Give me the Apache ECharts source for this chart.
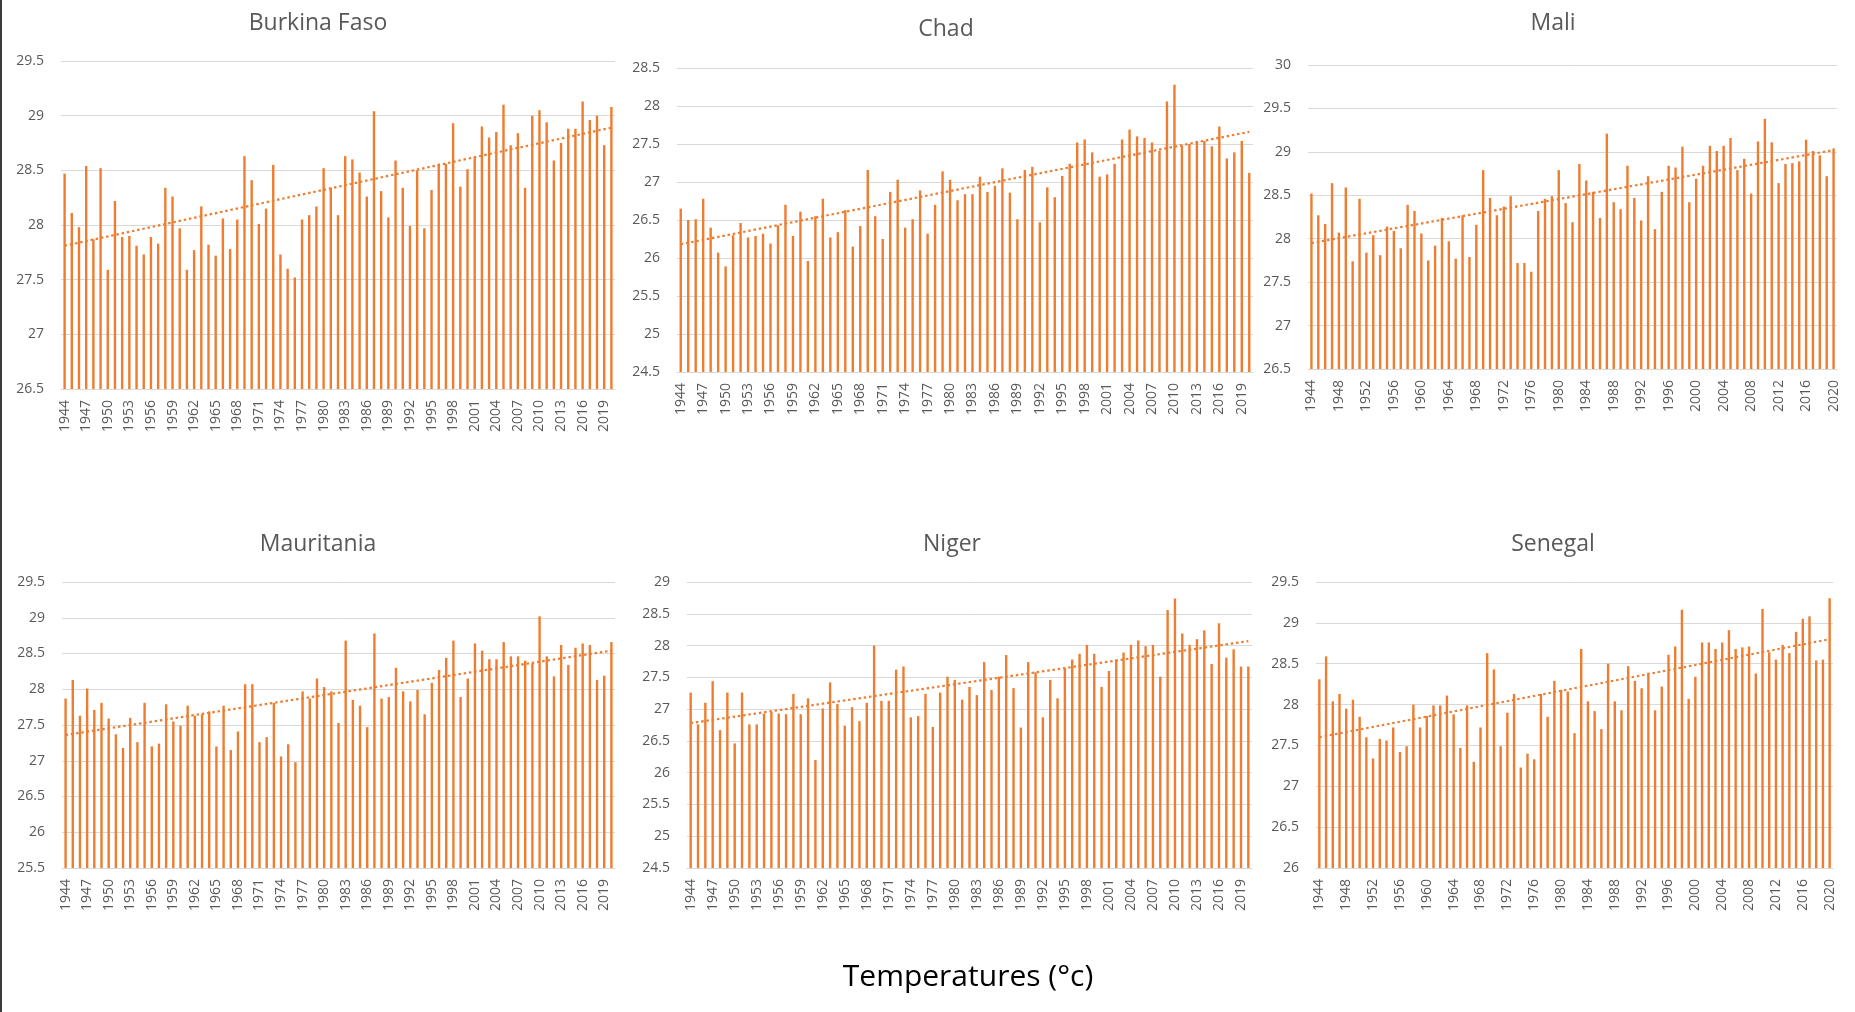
<!DOCTYPE html>
<html><head><meta charset="utf-8">
<script src="https://cdn.jsdelivr.net/npm/echarts@6/dist/echarts.min.js"></script>
<style>html,body{margin:0;padding:0;background:#fff;overflow:hidden}#c{width:1855px;height:1012px}</style>
</head><body><div id="c"></div>
<script>
const years = [1944,1945,1946,1947,1948,1949,1950,1951,1952,1953,1954,1955,1956,1957,1958,1959,1960,1961,1962,1963,1964,1965,1966,1967,1968,1969,1970,1971,1972,1973,1974,1975,1976,1977,1978,1979,1980,1981,1982,1983,1984,1985,1986,1987,1988,1989,1990,1991,1992,1993,1994,1995,1996,1997,1998,1999,2000,2001,2002,2003,2004,2005,2006,2007,2008,2009,2010,2011,2012,2013,2014,2015,2016,2017,2018,2019,2020];

const burkina = [28.47,28.11,27.98,28.54,27.87,28.52,27.59,28.22,27.89,27.90,27.81,27.73,27.89,27.83,28.34,28.26,27.97,27.59,27.77,28.17,27.82,27.72,28.06,27.78,28.05,28.63,28.41,28.01,28.15,28.55,27.73,27.60,27.52,28.05,28.09,28.17,28.52,28.34,28.09,28.63,28.60,28.48,28.26,29.04,28.31,28.07,28.59,28.34,27.99,28.50,27.97,28.32,28.56,28.56,28.93,28.35,28.51,28.62,28.90,28.80,28.85,29.10,28.73,28.84,28.34,29.00,29.05,28.94,28.59,28.75,28.88,28.88,29.13,28.96,29.00,28.73,29.08];
const chad = [26.65,26.50,26.51,26.78,26.40,26.07,25.89,26.30,26.46,26.27,26.29,26.32,26.19,26.43,26.70,26.29,26.61,25.96,26.55,26.78,26.27,26.34,26.63,26.15,26.42,27.16,26.55,26.25,26.87,27.03,26.40,26.51,26.89,26.32,26.70,27.14,27.03,26.76,26.84,26.84,27.07,26.87,26.95,27.18,26.86,26.51,27.16,27.20,26.47,26.93,26.80,27.08,27.24,27.52,27.56,27.39,27.07,27.10,27.24,27.56,27.69,27.60,27.58,27.52,27.41,28.06,28.28,27.48,27.50,27.54,27.54,27.47,27.73,27.31,27.39,27.54,27.12];
const mali = [28.52,28.27,28.17,28.64,28.07,28.59,27.74,28.46,27.84,28.04,27.81,28.14,28.09,27.89,28.39,28.32,28.06,27.75,27.92,28.24,27.97,27.77,28.27,27.79,28.16,28.79,28.47,28.27,28.37,28.49,27.72,27.72,27.62,28.32,28.46,28.49,28.79,28.41,28.19,28.86,28.67,28.54,28.24,29.21,28.42,28.34,28.84,28.47,28.21,28.72,28.11,28.54,28.84,28.82,29.06,28.42,28.69,28.84,29.07,29.01,29.07,29.16,28.79,28.92,28.52,29.12,29.38,29.11,28.64,28.86,28.87,28.89,29.14,29.01,28.96,28.72,29.04];
const mauritania = [27.87,28.13,27.63,28.01,27.71,27.81,27.59,27.37,27.18,27.60,27.26,27.81,27.20,27.24,27.79,27.55,27.49,27.77,27.63,27.65,27.69,27.20,27.77,27.15,27.41,28.07,28.07,27.26,27.33,27.81,27.06,27.23,26.98,27.97,27.87,28.15,28.03,27.97,27.53,28.68,27.85,27.77,27.47,28.78,27.87,27.89,28.30,27.97,27.83,27.99,27.65,28.09,28.27,28.44,28.68,27.89,28.15,28.64,28.54,28.42,28.42,28.66,28.46,28.46,28.40,28.36,29.02,28.46,28.18,28.62,28.34,28.58,28.64,28.62,28.13,28.19,28.66];
const niger = [27.26,26.76,27.10,27.44,26.67,27.26,26.46,27.26,26.76,26.76,26.93,26.96,26.93,26.92,27.24,26.92,27.17,26.20,27.01,27.42,27.08,26.74,27.03,26.81,27.10,28.00,27.13,27.13,27.62,27.67,26.87,26.89,27.24,26.72,27.26,27.51,27.46,27.15,27.35,27.22,27.74,27.30,27.51,27.85,27.33,26.71,27.74,27.58,26.87,27.46,27.17,27.65,27.78,27.87,28.01,27.87,27.35,27.60,27.78,27.89,28.01,28.08,27.99,28.01,27.51,28.56,28.74,28.19,28.01,28.10,28.24,27.71,28.35,27.81,27.94,27.67,27.67];
const senegal = [28.31,28.59,28.04,28.13,27.95,28.06,27.85,27.60,27.34,27.58,27.56,27.72,27.42,27.49,28.00,27.72,27.86,27.99,27.99,28.11,27.88,27.47,27.99,27.30,27.72,28.63,28.43,27.49,27.90,28.13,27.23,27.40,27.33,28.13,27.85,28.29,28.18,28.16,27.65,28.68,28.04,27.92,27.70,28.50,28.04,27.93,28.47,28.29,28.20,28.39,27.93,28.22,28.61,28.71,29.16,28.07,28.34,28.76,28.76,28.68,28.76,28.91,28.68,28.70,28.71,28.38,29.17,28.64,28.55,28.73,28.63,28.89,29.05,29.08,28.54,28.55,29.30];

// linear trend end points (first year, last year)
const trendBurkina = [27.81, 28.89];
const trendChad = [26.18, 27.66];
const trendMali = [27.95, 29.02];
const trendMauritania = [27.36, 28.54];
const trendNiger = [26.78, 28.07];
const trendSenegal = [27.60, 28.80];

// y axis ranges [min, max]
const yBurkina = [26.5, 29.5];
const yChad = [24.5, 28.5];
const yMali = [26.5, 30];
const yMauritania = [25.5, 29.5];
const yNiger = [24.5, 29];
const ySenegal = [26, 29.5];

const countries = ['Burkina Faso','Chad','Mali','Mauritania','Niger','Senegal'];
const yearLabelStep = [3, 3, 4, 3, 3, 4];
const axisTitle = 'Temperatures (°c)';

const values = [burkina, chad, mali, mauritania, niger, senegal];
const trends = [trendBurkina, trendChad, trendMali, trendMauritania, trendNiger, trendSenegal];
const yRanges = [yBurkina, yChad, yMali, yMauritania, yNiger, ySenegal];

// layout (pixels)
const grids = [
  {left:61, top:61, width:554, height:328},
  {left:677, top:68, width:576, height:304},
  {left:1308, top:65, width:529, height:304},
  {left:62, top:582, width:553, height:286},
  {left:687, top:582, width:565, height:286},
  {left:1316, top:582, width:517, height:286}
];
const titlePos = [[318,23],[946,29],[1553,23],[318,544],[952,544],[1553,544]];

const ORANGE = '#ED7D31';
const FONT = 'Open Sans';
const cats = years.map(String);

const option = {
  animation: false,
  backgroundColor: '#ffffff',
  grid: grids.map(g => Object.assign({containLabel:false}, g)),
  xAxis: grids.map((g,i) => ({
    type:'category', gridIndex:i, data:cats, boundaryGap:true,
    axisTick:{show:false},
    axisLine:{show:true, lineStyle:{color:'#D9D9D9', width:1}},
    axisLabel:{interval:yearLabelStep[i]-1, rotate:90, margin:11, color:'#595959', fontFamily:FONT, fontSize:14}
  })),
  yAxis: grids.map((g,i) => ({
    type:'value', gridIndex:i, min:yRanges[i][0], max:yRanges[i][1], interval:0.5,
    axisLine:{show:false}, axisTick:{show:false},
    splitLine:{show:true, lineStyle:{color:'#D9D9D9', width:1}},
    axisLabel:{margin:17, color:'#595959', fontFamily:FONT, fontSize:14}
  })),
  series: [],
  graphic: []
};

values.forEach((vals,i) => {
  option.series.push({
    type:'bar', xAxisIndex:i, yAxisIndex:i, data:vals, barWidth:2.4, clip:true,
    itemStyle:{color:ORANGE}, silent:true
  });
  option.series.push({
    type:'line', xAxisIndex:i, yAxisIndex:i, symbol:'none', silent:true, z:5,
    data:[[cats[0], trends[i][0]], [cats[cats.length-1], trends[i][1]]],
    lineStyle:{color:ORANGE, width:2.2, type:[2.5,2.8]}
  });
  option.graphic.push({
    type:'text', x:titlePos[i][0], y:titlePos[i][1], silent:true,
    style:{text:countries[i], fill:'#595959', font:'23px "Open Sans"', align:'center', verticalAlign:'middle'}
  });
});

option.graphic.push({
  type:'text', x:968, y:977, silent:true,
  style:{text:axisTitle, fill:'#000000', font:'30px "Open Sans"', align:'center', verticalAlign:'middle'}
});
option.graphic.push({
  type:'rect', shape:{x:0, y:0, width:2, height:1012}, silent:true,
  style:{fill:'#3a3a3a'}
});

const chart = echarts.init(document.getElementById('c'), null, {renderer:'canvas'});
chart.setOption(option);
</script>
</body></html>
